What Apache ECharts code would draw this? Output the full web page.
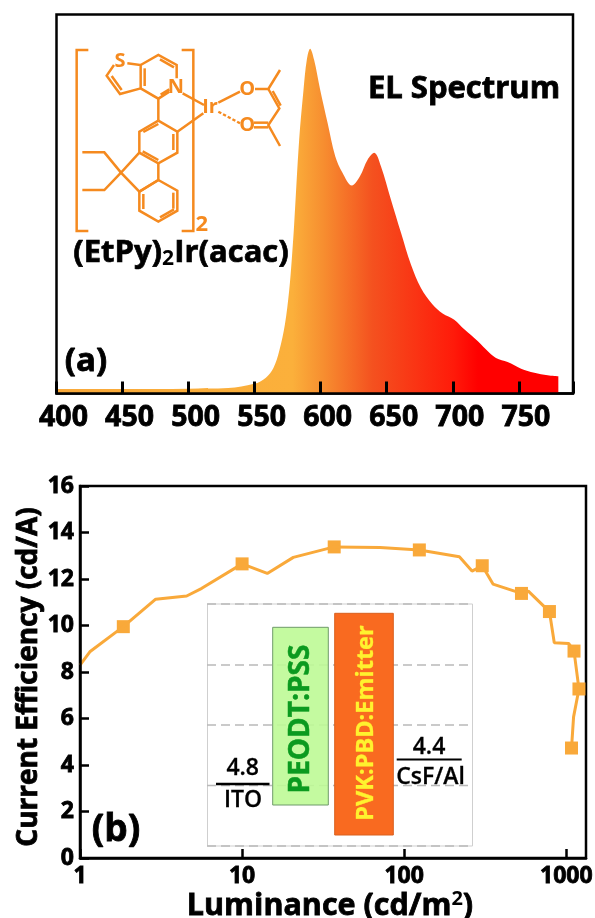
<!DOCTYPE html>
<html><head><meta charset="utf-8">
<style>html,body{margin:0;padding:0;background:#fff}#c{width:595px;height:918px}</style>
<script src="https://cdn.jsdelivr.net/npm/echarts@6/dist/echarts.min.js"></script>
</head><body><div id="c"></div>
<script>
// ---- data ----
const wavelengths = [400,450,500,530,549.6,558.5,564.2,568.6,572.9,576.1,578.2,579.9,583.7,587,589.5,592,595,599.6,605.2,611,616.5,623.6,629.7,635.5,640.5,645.6,653.2,660.8,668.3,675.9,684.7,692.3,701.1,708.7,718.8,727.7,732.7,741.5,751.7,761.7,771.8,779.9];
const intensity = [.013,.013,.014,.016,.028,.046,.074,.123,.2,.297,.394,.49,.736,.881,.968,1,.968,.881,.785,.688,.64,.603,.63,.678,.698,.659,.562,.466,.374,.306,.258,.232,.214,.186,.152,.118,.103,.091,.072,.06,.053,.05];
const waveTicks = [400,450,500,550,600,650,700,750];
const curveLum = [1,1.15,1.85,2.93,4.55,5.64,10,14.3,20.7,37,71,124,219,262,303,353,529,583,787,843,1034,1116,1185,1197,1109,1077];
const curveEff = [8.3,8.87,9.95,11.13,11.27,11.6,12.65,12.24,12.93,13.38,13.36,13.25,12.96,12.34,12.57,11.78,11.38,11.48,10.6,9.26,9.23,8.9,7.5,7.27,6.07,4.73];
const markLum = [1.85,10,37,124,303,529,787,1116,1197,1077];
const markEff = [9.95,12.65,13.38,13.25,12.57,11.38,10.6,8.9,7.27,4.73];

// ---- styling ----
const FONT = '"Open Sans"';
const ORANGE = '#F9A93A', MOL = '#F58A1F';

// molecule drawing, in units of 1/3 px
const molLines = [
 [[115,120],[80,120],[80,663],[115,663]], [[395,120],[430,120],[430,663],[395,663]],
 [[232,160],[272,165],[272,235],[210,252],[170,197],[192,165]], [[185,198],[215,240]], [[284,175],[284,228]],
 [[272,165],[325,135],[380,165],[380,205]], [[330,148],[372,172]],
 [[272,235],[325,266],[358,245]], [[332,254],[358,238]],
 [[325,266],[325,332]],
 [[325,332],[382,365],[382,428],[325,460],[268,428],[268,365],[325,332]], [[370,372],[370,420]], [[280,366],[325,342]], [[278,424],[325,450]],
 [[268,428],[213,488],[268,545],[325,510],[325,460]],
 [[325,510],[382,542],[382,602],[325,635],[268,602],[268,545],[325,510]], [[370,548],[370,596]], [[280,552],[280,597]], [[330,622],[372,598]],
 [[213,488],[163,427],[97,427]], [[213,488],[163,540],[97,540]],
 [[382,365],[460,310]], [[398,250],[462,285]],
 [[505,278],[570,245]], [[615,237],[655,237],[690,180]], [[655,237],[688,295],[655,345],[690,408]], [[668,243],[692,287]],
 [[612,338],[655,338]], [[612,352],[655,352]]
];
const molDashed = [[[505,305],[570,340]]];
const molAtoms = [['S',210,155,60],['N',378,232,60],['Ir',480,292,60],['O',592,237,60],['O',592,345,60],['2',455,645,66]];

function molecule(){
  const ch = [];
  molLines.forEach(p=>ch.push({type:'polyline',shape:{points:p},style:{stroke:MOL,lineWidth:7.5,fill:null}}));
  molDashed.forEach(p=>ch.push({type:'polyline',shape:{points:p},style:{stroke:MOL,lineWidth:7,fill:null,lineDash:[10,6]}}));
  molAtoms.forEach(a=>ch.push({type:'text',style:{text:a[0],x:a[1],y:a[2],fill:MOL,font:'700 '+a[3]+'px '+FONT,textAlign:'center',textVerticalAlign:'middle'}}));
  return {type:'group',x:50,y:10,scaleX:1/3,scaleY:1/3,children:ch};
}
function label(text,x,y,size,fill,weight,rot,stroke){
  return {type:'text',x:x,y:y,rotation:rot||0,style:{text:text,fill:fill||'#000',font:(weight||700)+' '+size+'px '+FONT,textAlign:'center',textVerticalAlign:'middle',stroke:stroke?(fill||'#000'):null,lineWidth:stroke||0}};
}
function hline(x1,x2,y,color,w,dash){
  return {type:'line',shape:{x1:x1,y1:y,x2:x2,y2:y},style:{stroke:color,lineWidth:w,lineDash:dash||null}};
}
function rect(x,y,w,h,fill,stroke){
  return {type:'rect',shape:{x:x,y:y,width:w,height:h},style:{fill:fill,stroke:stroke,lineWidth:1}};
}
const GRAY = '#b9b9b9';
const inset = [
  {type:'rect',shape:{x:207.5,y:604,width:265,height:242},style:{fill:'none',stroke:'#cfcfcf',lineWidth:1}},
  hline(207,472,604,GRAY,1.5,[9,5]), hline(207,468,665,GRAY,1.5,[9,5]), hline(207,468,725,GRAY,1.5,[9,5]),
  hline(207,468,785.5,GRAY,1.5,[9,5]), hline(207,472,846,GRAY,1.5,[9,5]),
  rect(272.7,627.3,55.6,177.7,'rgba(190,250,150,0.9)','#6f9a6a'),
  rect(334.7,613.3,58.6,221.7,'#F96A20','#d9601f'),
  label('PEODT:PSS',301.5,719,28,'#0B9A1F',700,Math.PI/2,.5),
  label('PVK:PBD:Emitter',366,723,23.5,'#FFF22E',700,Math.PI/2,.3),
  label('4.8',242.7,768,23,'#000',600,0,.3), hline(216,269.5,784,'#000',2.5), label('ITO',243,800,23,'#000',600,0,.3),
  label('4.4',429,747,23,'#000',600,0,.3), hline(396.7,461.7,759.5,'#000',2), label('CsF/Al',430.5,777.5,23,'#000',600,0,.3)
];
const texts = [
  label('EL Spectrum',464,89,31,'#000',700,0,.8),
  label('(a)',86,362,33,'#000',700,0,.8),
  label('(b)',116,830,37,'#000',700,0,.8),
  {type:'text',x:181,y:253,style:{text:'{a|(EtPy)}{s|2}{a|Ir(acac)}',textAlign:'center',textVerticalAlign:'middle',
    rich:{a:{font:'700 31px '+FONT,fill:'#000',stroke:'#000',lineWidth:.7},s:{font:'700 21px '+FONT,fill:'#000',padding:[12,0,0,0]}}}}
];

const chart = echarts.init(document.getElementById('c'),null,{renderer:'canvas'});
const axisLine = {show:true,onZero:false,lineStyle:{color:'#000',width:2.5}};
chart.setOption({
  animation:false,
  backgroundColor:'#fff',
  grid:[
    {left:56.5,top:14.5,right:22,bottom:524.5,show:true,borderColor:'#000',borderWidth:2.5,backgroundColor:'transparent',outerBoundsMode:'none',containLabel:false},
    {left:80,top:486,right:9,bottom:60,show:true,borderColor:'#000',borderWidth:2.5,backgroundColor:'transparent',outerBoundsMode:'none',containLabel:false}
  ],
  xAxis:[
    {gridIndex:0,type:'value',z:10,min:400,max:791,interval:50,axisLine:axisLine,splitLine:{show:false},
     axisTick:{show:true,inside:true,length:12,lineStyle:{color:'#000',width:3}},
     axisLabel:{customValues:waveTicks,color:'#000',fontFamily:FONT,fontWeight:700,fontSize:28.5,margin:10,padding:[0,0,0,14],textBorderColor:'#000',textBorderWidth:.8}},
    {gridIndex:1,type:'log',logBase:10,min:1,max:1323,z:10,axisLine:axisLine,splitLine:{show:false},minorTick:{show:false},
     axisTick:{show:true,inside:true,length:9,lineStyle:{color:'#000',width:2.5}},
     axisLabel:{showMaxLabel:false,formatter:v=>String(Math.round(v)),color:'#000',fontFamily:FONT,fontWeight:700,fontSize:23,margin:7,textBorderColor:'#000',textBorderWidth:.8},
     name:'{a|Luminance (cd/m}{s|2}{a|)}',nameLocation:'middle',nameGap:30,
     nameTextStyle:{padding:[0,6,0,0],rich:{a:{fontFamily:FONT,fontWeight:700,fontSize:30.5,color:'#000',textBorderColor:'#000',textBorderWidth:.8},s:{fontFamily:FONT,fontWeight:700,fontSize:20,color:'#000',padding:[0,0,14,0]}}}}
  ],
  yAxis:[
    {gridIndex:0,type:'value',min:0,max:1.099,show:false,splitLine:{show:false}},
    {gridIndex:1,type:'value',min:0,max:16,interval:2,z:10,axisLine:axisLine,splitLine:{show:false},
     axisTick:{show:true,inside:true,length:9,lineStyle:{color:'#000',width:2.5}},
     axisLabel:{color:'#000',fontFamily:FONT,fontWeight:700,fontSize:23,margin:6,textBorderColor:'#000',textBorderWidth:.8},
     name:'Current Efficiency (cd/A)',nameLocation:'middle',nameGap:37,nameRotate:90,nameMoveOverlap:false,
     nameTextStyle:{fontFamily:FONT,fontWeight:700,fontSize:28,color:'#000',textBorderColor:'#000',textBorderWidth:.8,padding:[0,10,0,0]}}
  ],
  series:[
    {type:'line',xAxisIndex:0,yAxisIndex:0,z:2,data:wavelengths.map((w,i)=>[w,intensity[i]]),symbol:'none',smooth:.35,
     lineStyle:{width:0},
     areaStyle:{opacity:1,color:new echarts.graphic.LinearGradient(0,0,1,0,[
       {offset:0,color:'#F9A93A'},{offset:.47,color:'#FBB03B'},{offset:.53,color:'#F78F30'},
       {offset:.63,color:'#F4511F'},{offset:.79,color:'#FF1B0A'},{offset:.84,color:'#FF0000'},{offset:1,color:'#FF0000'}])}},
    {type:'line',xAxisIndex:1,yAxisIndex:1,data:curveLum.map((l,i)=>[l,curveEff[i]]),symbol:'none',
     lineStyle:{color:ORANGE,width:3},clip:false},
    {type:'scatter',xAxisIndex:1,yAxisIndex:1,data:markLum.map((l,i)=>[l,markEff[i]]),symbol:'rect',symbolSize:13,
     itemStyle:{color:ORANGE,opacity:1},clip:false}
  ],
  graphic:{elements:[molecule()].concat(inset,texts)}
});
</script></body></html>
